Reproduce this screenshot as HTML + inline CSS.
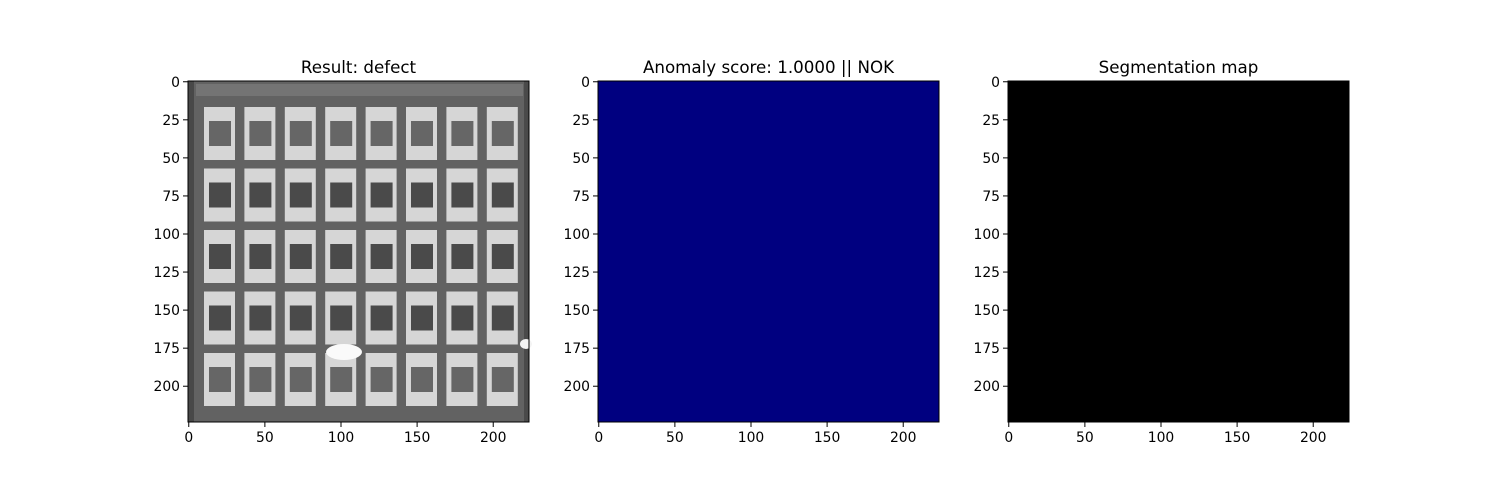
<!DOCTYPE html>
<html><head><meta charset="utf-8"><style>
html,body{margin:0;padding:0;background:#fff;width:1500px;height:500px;overflow:hidden}
svg{display:block;font-family:"DejaVu Sans","Liberation Sans",sans-serif}
</style></head><body>
<svg id="fig" width="1500" height="500">
<g id="panels"></g>
</svg>
<script>
const xTicks = [0, 50, 100, 150, 200];
const yTicks = [0, 25, 50, 75, 100, 125, 150, 175, 200];
const titles = ["Result: defect", "Anomaly score: 1.0000 || NOK", "Segmentation map"];
const panelLeft = [188, 598, 1008];
const imgSize = 224;
const NS = "http://www.w3.org/2000/svg";
const root = document.getElementById('panels');
function mk(tag, attrs, parent){const e=document.createElementNS(NS,tag);for(const k in attrs)e.setAttribute(k,attrs[k]);(parent||root).appendChild(e);return e;}
const top0 = 81, side = 341, sc = side / imgSize;
panelLeft.forEach((L, i) => {
  const g = mk('g', {});
  
  
  const sx = v => L + (v + 0.5) * sc;
  const sy = v => top0 + (v + 0.5) * sc;
  if (i === 0) {
    const img = mk('g', {}, g);
    
    
    mk('rect', {x: L, y: top0, width: side, height: side, fill: '#626262'}, img);
    mk('rect', {x: L + 8, y: top0 + 3, width: side - 14, height: 12, fill: '#747474'}, img);
    mk('rect', {x: L, y: top0, width: 6, height: side, fill: '#484848'}, img);
    mk('rect', {x: L + side - 5, y: top0, width: 5, height: side, fill: '#4a4a4a'}, img);
    for (let r = 0; r < 5; r++) for (let c = 0; c < 8; c++) {
      const x = L + 16 + c * 40.4, y = top0 + 26 + r * 61.5;
      const t = mk('rect', {x: x, y: y, width: 31, height: 53, fill: '#d6d6d6'}, img);
      
      
      const dark = (r === 1 || r === 2 || r === 3) ? '#4a4a4a' : '#666';
      mk('rect', {x: x + 5, y: y + 14, width: 22, height: 25, fill: dark}, img);
    }
    mk('ellipse', {cx: L + 156, cy: top0 + 271, rx: 18, ry: 8, fill: '#fafafa'}, img);
    mk('ellipse', {cx: L + 338, cy: top0 + 263, rx: 6, ry: 5, fill: '#f4f4f4'}, img);
  } else {
    const r = mk('rect', {x: L, y: top0, width: side, height: side, fill: i === 1 ? '#000080' : '#000000'}, g);
    
    
  }
  mk('rect', {x: L, y: top0, width: side, height: side, fill: 'none', stroke: '#000', 'stroke-width': 1}, g);
  const t = mk('text', {x: L + side / 2, y: top0 - 8, 'text-anchor': 'middle', 'font-size': 16.7, fill: '#000'}, g);
  t.textContent = titles[i];
  
  
  xTicks.forEach(v => {
    const x = sx(v);
    mk('line', {x1: x, x2: x, y1: top0 + side, y2: top0 + side + 5, stroke: '#000'}, g);
    const tx = mk('text', {x: x, y: top0 + side + 20, 'text-anchor': 'middle', 'font-size': 13.9}, g);
    tx.textContent = v;
    
    
  });
  yTicks.forEach(v => {
    const y = sy(v);
    mk('line', {x1: L - 5, x2: L, y1: y, y2: y, stroke: '#000'}, g);
    const ty = mk('text', {x: L - 8, y: y + 5, 'text-anchor': 'end', 'font-size': 13.9}, g);
    ty.textContent = v;
    
    
  });
});
</script>
</body></html>
